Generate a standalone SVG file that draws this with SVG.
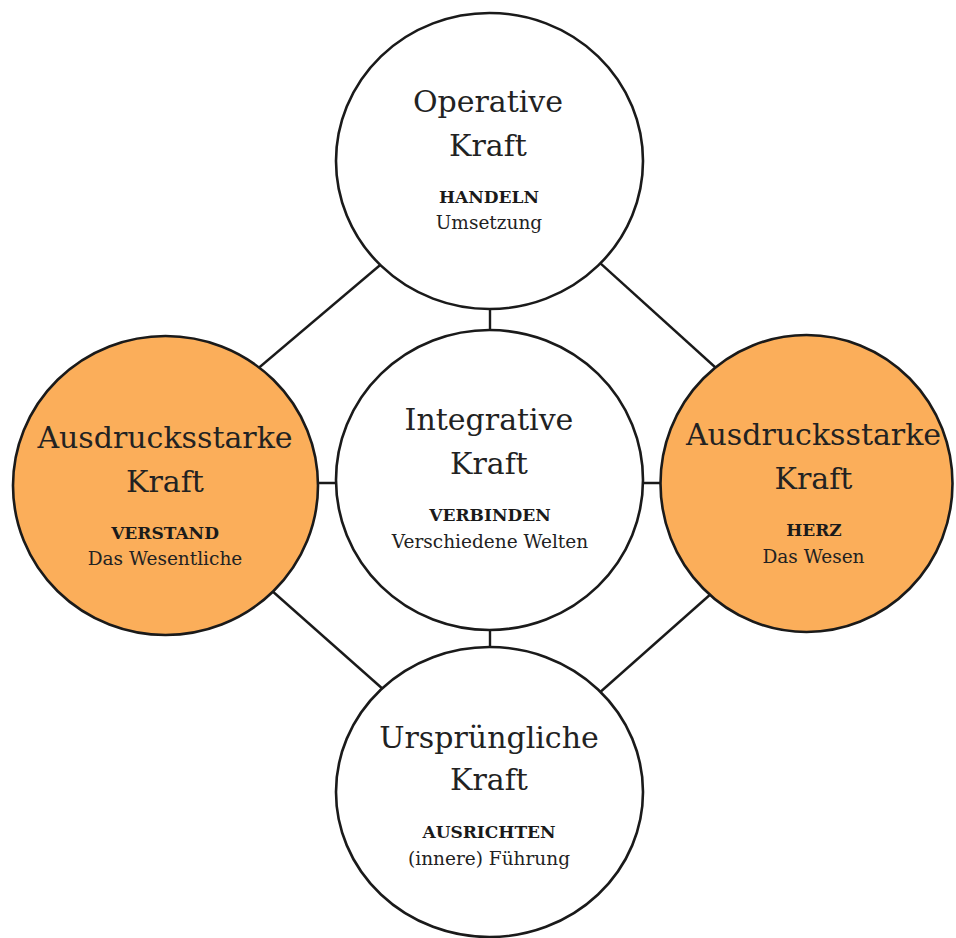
<svg xmlns="http://www.w3.org/2000/svg" width="956" height="938" viewBox="0 0 956 938">
  <style>
    .link { stroke: #1a1a1a; stroke-width: 2.4; fill: none; }
    .ring { stroke: #1a1a1a; stroke-width: 2.6; }
    .plain { fill: #ffffff; }
    .warm { fill: #FBAE5A; }
    text { font-family: "DejaVu Serif", "Liberation Serif", serif; text-anchor: middle; fill: #222222; }
    .title { font-size: 30px; }
    .key { font-size: 17px; font-weight: bold; fill: #1a1a1a; }
    .sub { font-size: 18.5px; }
  </style>
  <rect width="956" height="938" fill="#ffffff"/>

  <!-- connectors between the forces -->
  <g id="connectors">
    <line class="link" x1="392" y1="255" x2="248" y2="377"/>
    <line class="link" x1="589" y1="253" x2="726" y2="377"/>
    <line class="link" x1="262" y1="582" x2="393" y2="698"/>
    <line class="link" x1="721" y1="585" x2="589" y2="702"/>
    <line class="link" x1="490" y1="300" x2="490" y2="340"/>
    <line class="link" x1="490" y1="620" x2="490" y2="657"/>
    <line class="link" x1="310" y1="483" x2="345" y2="483"/>
    <line class="link" x1="635" y1="483" x2="670" y2="483"/>
  </g>

  <g id="operative">
    <ellipse class="ring plain" cx="489.5" cy="161" rx="153.5" ry="148"/>
    <text class="title" x="488" y="112">Operative</text>
    <text class="title" x="488" y="156">Kraft</text>
    <text class="key" x="489" y="203">HANDELN</text>
    <text class="sub" x="489" y="229">Umsetzung</text>
  </g>

  <g id="integrative">
    <ellipse class="ring plain" cx="489.5" cy="480" rx="153.5" ry="150"/>
    <text class="title" x="489" y="430">Integrative</text>
    <text class="title" x="489" y="474">Kraft</text>
    <text class="key" x="490" y="521">VERBINDEN</text>
    <text class="sub" x="490" y="548">Verschiedene Welten</text>
  </g>

  <g id="verstand">
    <ellipse class="ring warm" cx="165.5" cy="485.5" rx="152.5" ry="149.5"/>
    <text class="title" x="165" y="448">Ausdrucksstarke</text>
    <text class="title" x="165" y="492">Kraft</text>
    <text class="key" x="165" y="539">VERSTAND</text>
    <text class="sub" x="165" y="565">Das Wesentliche</text>
  </g>

  <g id="herz">
    <ellipse class="ring warm" cx="806.5" cy="483.5" rx="146" ry="148.5"/>
    <text class="title" x="813.5" y="445">Ausdrucksstarke</text>
    <text class="title" x="813.5" y="489">Kraft</text>
    <text class="key" x="814" y="536">HERZ</text>
    <text class="sub" x="813.5" y="563">Das Wesen</text>
  </g>

  <g id="urspruengliche">
    <ellipse class="ring plain" cx="489.5" cy="792" rx="153.5" ry="145"/>
    <text class="title" x="489" y="748">Ursprüngliche</text>
    <text class="title" x="489" y="790">Kraft</text>
    <text class="key" x="489" y="838">AUSRICHTEN</text>
    <text class="sub" x="489" y="865">(innere) Führung</text>
  </g>
</svg>
